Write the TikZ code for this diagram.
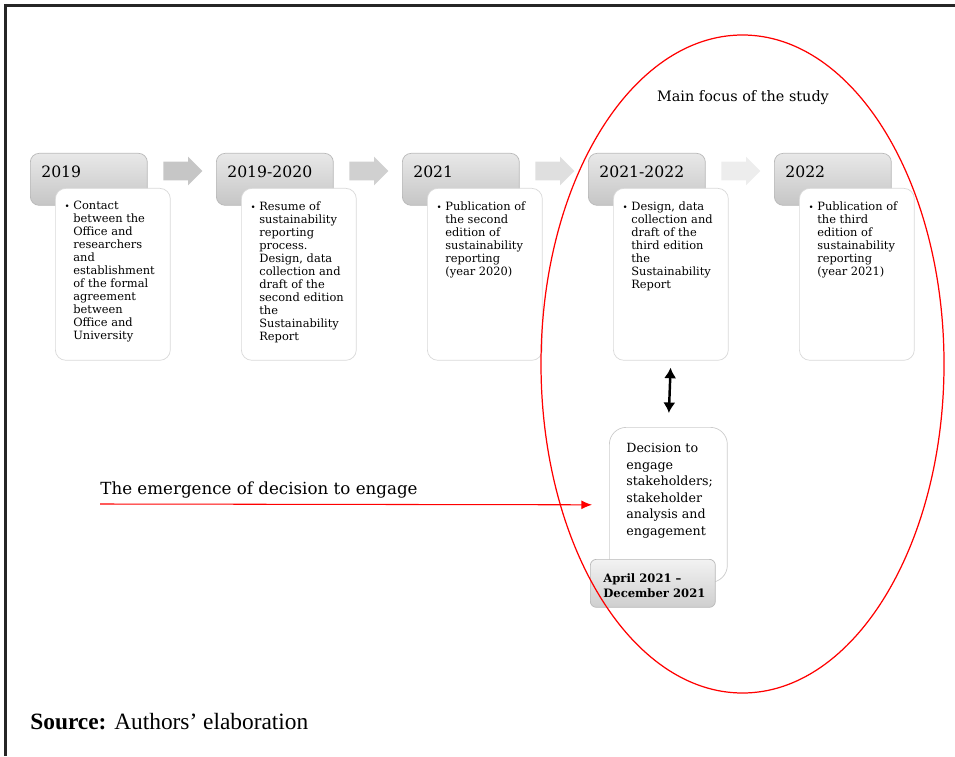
\documentclass[tikz,border=0pt]{standalone}
\usepackage{fontspec}
\setmainfont{DejaVu Serif}
\newfontfamily\srcfont{Liberation Serif}
\usepackage{tikz}
\usetikzlibrary{shapes.arrows}
\usetikzlibrary{arrows.meta}

\begin{document}
\begin{tikzpicture}[x=0.02cm, y=-0.02cm,
  yearbox/.style={draw=gray!55, rounded corners=5pt, top color=gray!18, bottom color=gray!45, minimum width=2.34cm, minimum height=1.04cm, anchor=north west, inner sep=0},
  textbox/.style={draw=gray!30, fill=white, rounded corners=6pt, minimum width=2.3cm, minimum height=3.44cm, anchor=north west, inner sep=0},
  yeartext/.style={anchor=west, inner sep=0, font=\fontsize{8.9}{10}\selectfont},
  bodytext/.style={anchor=north west, inner sep=0, align=left, font=\fontsize{6.5}{7.4}\selectfont},
  steparrow/.style={single arrow, single arrow head extend=0.1cm, minimum height=0.78cm, inner xsep=0, inner ysep=0.18cm, anchor=west},
  ]

\useasboundingbox (0,0) rectangle (955,756);

% frame
\draw[black!85, line width=1.7pt] (4,5.5)--(955,5.5);
\draw[black!85, line width=1.7pt] (5.5,4)--(5.5,756);

% arrows between the years
\node[steparrow, fill=gray!45] (a1) at (163,171) {};
\node[steparrow, fill=gray!37] (a2) at (349,171) {};
\node[steparrow, fill=gray!25] (a3) at (535,171) {};
\node[steparrow, fill=gray!14] (a4) at (721,171) {};

% year boxes
{
\node[yearbox] (y2019) at (30,153) {};
\node[yearbox] (y1920) at (216,153) {};
\node[yearbox] (y2021) at (402,153) {};
\node[yearbox] (y2122) at (588,153) {};
\node[yearbox] (y2022) at (774,153) {};

\node[yeartext] (l2019) at (41,172) {2019};
\node[yeartext] (l1920) at (227,172) {2019-2020};
\node[yeartext] (l2021) at (413,172) {2021};
\node[yeartext] (l2122) at (599,172) {2021-2022};
\node[yeartext] (l2022) at (785,172) {2022};
}

% text boxes
{
\node[textbox] (t2019) at (55,188) {};
\node[textbox] (t1920) at (241,188) {};
\node[textbox] (t2021) at (427,188) {};
\node[textbox] (t2122) at (613,188) {};
\node[textbox] (t2022) at (799,188) {};

\node[bodytext] (b2019) at (73,201)
{\llap{{\tiny\textbullet}\ }Contact\\between the\\Office and\\researchers\\and\\establishment\\of the formal\\agreement\\between\\Office and\\University};
\node[bodytext] (b1920) at (259,201)
{\llap{{\tiny\textbullet}\ }Resume of\\sustainability\\reporting\\process.\\Design, data\\collection and\\draft of the\\second edition\\the\\Sustainability\\Report};
\node[bodytext] (b2021) at (445,201)
{\llap{{\tiny\textbullet}\ }Publication of\\the second\\edition of\\sustainability\\reporting\\(year 2020)};
\node[bodytext] (b2122) at (631,201)
{\llap{{\tiny\textbullet}\ }Design, data\\collection and\\draft of the\\third edition\\the\\Sustainability\\Report};
\node[bodytext] (b2022) at (817,201)
{\llap{{\tiny\textbullet}\ }Publication of\\the third\\edition of\\sustainability\\reporting\\(year 2021)};
}

% decision
\node[draw=gray!40, fill=white, rounded corners=0.34cm, minimum width=2.36cm, minimum height=3.1cm, anchor=north west, inner sep=0] (decision) at (609,427) {};
\node[anchor=north west, inner sep=0, align=left, font=\fontsize{7.2}{9.4}\selectfont] (dtext) at (626,443)
{Decision to\\engage\\stakeholders;\\stakeholder\\analysis and\\engagement};

\node[draw=gray!55, rounded corners=0.12cm, top color=gray!10, bottom color=gray!38, minimum width=2.5cm, minimum height=0.96cm, anchor=north west, inner sep=0] (april) at (590,559) {};
\node[anchor=north west, inner sep=0, align=left, font=\bfseries\fontsize{6.6}{8.5}\selectfont] (atext) at (603,573)
{April 2021 --\\December 2021};

\draw[black, line width=1.4pt, {Latex[length=6pt,width=7pt]}-{Latex[length=6pt,width=7pt]}, shorten <=0.14cm, shorten >=0.28cm] (t2122.south) -- (decision.north);

% emergence
\coordinate (engstart) at (100,504);
\draw[red, line width=0.6pt, -{Latex[length=6pt,width=5pt]}, shorten >=0.34cm] (engstart) -- (decision.west);
\node[font=\fontsize{9.5}{11}\selectfont] (emerge) at (259,490) {The emergence of decision to engage};

% focus
\draw[red, line width=0.7pt] (742.5,364) ellipse (201.5 and 329);
\node[font=\fontsize{8.2}{10}\selectfont] (focus) at (743,98) {Main focus of the study};

\node[anchor=west, inner sep=0, font=\srcfont\fontsize{13.3}{15}\selectfont] (source) at (30,722) {\textbf{Source:} Authors’ elaboration};

\end{tikzpicture}
\end{document}
